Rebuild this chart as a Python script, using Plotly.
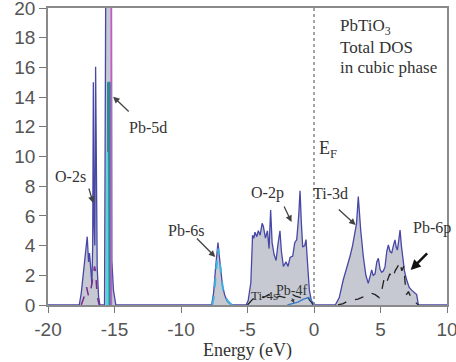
import plotly.graph_objects as go

# ---------------- data ----------------
total_E = [-20.0, -17.65, -17.5, -17.35, -17.22, -17.05, -16.95, -16.88, -16.8, -16.7,
           -16.64, -16.59, -16.54, -16.48, -16.42, -16.37, -16.3, -16.2, -16.1,
           -15.75, -15.62, -15.58, -15.26, -15.2, -15.08, -14.98, -14.9,
           -7.7, -7.55, -7.4, -7.3, -7.22, -7.12, -7.0, -6.88, -6.72, -6.55, -6.35, -6.15,
           -5.1, -4.95, -4.75, -4.62, -4.52, -4.44, -4.3, -4.19, -4.05, -3.9, -3.81, -3.65,
           -3.5, -3.38, -3.26, -3.15, -3.0, -2.85, -2.72, -2.56, -2.45, -2.3, -2.1, -1.95,
           -1.8, -1.6, -1.45, -1.3, -1.15, -1.05, -0.95, -0.85, -0.7, -0.6, -0.5, -0.35,
           -0.2, -0.1,
           1.6, 1.9, 2.2, 2.45, 2.7, 2.9, 3.08, 3.2, 3.33, 3.42, 3.51, 3.71, 3.9, 4.08,
           4.2, 4.34, 4.45, 4.59, 4.72, 4.84, 4.97, 5.09, 5.22, 5.34, 5.47, 5.59, 5.72,
           5.84, 5.97, 6.09, 6.18, 6.27, 6.38, 6.47, 6.57, 6.67, 6.8, 6.97, 7.15, 7.34,
           7.55, 7.72, 7.85, 10.0]
total_DOS = [0, 0, 0.8, 2.1, 3.0, 4.6, 2.9, 3.5, 2.6, 1.4,
             4.0, 15.0, 5.5, 4.0, 16.05, 8.0, 2.5, 0.6, 0,
             0, 40, 40, 40, 3.0, 1.0, 0.3, 0,
             0, 0.8, 2.5, 3.6, 4.2, 3.3, 2.2, 1.3, 0.7, 0.3, 0.1, 0,
             0, 0.3, 1.5, 4.7, 4.5, 4.9, 4.6, 5.0, 4.7, 5.5, 5.3, 4.5,
             5.0, 3.8, 6.4, 4.2, 3.4, 3.0, 4.0, 5.0, 3.6, 2.6, 2.9, 2.6,
             3.2, 3.3, 4.2, 4.4, 6.0, 7.7, 5.5, 3.9, 4.0, 4.4, 3.0, 1.0,
             0.3, 0,
             0, 0.5, 1.7, 2.4, 3.25, 4.0, 5.05, 5.5, 7.3, 6.0, 5.05, 3.25, 2.0, 1.46,
             1.8, 2.36, 2.0, 2.1, 2.9, 3.14, 2.4, 2.2, 2.3, 2.58, 3.6, 4.04, 3.6,
             3.5, 4.0, 4.38, 3.9, 3.7, 4.4, 5.05, 4.0, 3.25, 2.3, 1.68, 1.2, 1.0,
             0.85, 0.7, 0, 0]

pb5d_teal_E = [-15.56, -15.52, -15.3, -15.27]
pb5d_teal_DOS = [0, 15.0, 15.0, 0]
pb5d_cyan_E = [-15.6, -15.57, -15.54, -15.5]
pb5d_cyan_DOS = [0, 10.3, 10.3, 0]
pb5d_mag_E = [-15.26, -15.24, -15.22]
pb5d_mag_DOS = [0, 40, 0]

o2s_E = [-17.5, -17.3, -17.1, -16.95, -16.8, -16.62, -16.5, -16.42, -16.3, -16.15]
o2s_DOS = [0, 0.5, 1.2, 0.6, 0.9, 2.0, 2.6, 2.2, 0.6, 0]

pb6s_E = [-7.65, -7.5, -7.38, -7.28, -7.2, -7.1, -6.98, -6.85, -6.7, -6.5, -6.3, -6.15]
pb6s_DOS = [0, 0.7, 2.2, 3.3, 3.8, 3.0, 2.0, 1.1, 0.6, 0.3, 0.1, 0]

val_dash_E = [-5.0, -4.6, -4.2, -3.8, -3.4, -3.0, -2.6, -2.2, -1.8, -1.4, -1.0, -0.6, -0.3, 0.0]
val_dash_DOS = [0, 0.4, 0.6, 0.5, 0.7, 0.4, 0.6, 0.5, 0.8, 0.6, 0.5, 0.7, 0.3, 0]

val_blue_E = [-2.0, -1.2, -0.8, -0.4, -0.1, 0.1]
val_blue_DOS = [0, 0.2, 0.4, 0.5, 0.2, 0]

pb6p_E = [1.8, 2.2, 2.6, 2.9, 3.3, 3.7, 4.0, 4.3, 4.6, 4.9, 5.1, 5.3, 5.5, 5.7, 5.9,
          6.1, 6.3, 6.45, 6.6, 6.75, 6.85, 6.95, 7.1, 7.3, 7.5, 7.7, 7.85]
pb6p_DOS = [0, 0.1, 0.3, 0.35, 0.4, 0.55, 0.65, 0.8, 0.7, 0.5, 1.0, 1.9, 1.6, 2.1, 1.8,
            2.3, 2.6, 2.9, 2.3, 2.6, 1.5, 0.7, 0.9, 0.5, 0.3, 0.1, 0]

x_ticks = [-20, -15, -10, -5, 0, 5, 10]
y_ticks = [0, 2, 4, 6, 8, 10, 12, 14, 16, 18, 20]

SERIF = "Liberation Serif, Times New Roman, Times, DejaVu Serif, serif"
SANS = "Liberation Sans, Arial, sans-serif"

fig = go.Figure()

fig.add_trace(go.Scatter(x=total_E, y=total_DOS, mode="lines", fill="tozeroy",
                         fillcolor="#c6c9d2", line=dict(color="#4747a6", width=1.3),
                         name="Total"))
fig.add_trace(go.Scatter(x=pb5d_teal_E, y=pb5d_teal_DOS, mode="lines", fill="tozeroy",
                         fillcolor="#2a8b95", line=dict(color="#2a8b95", width=1)))
fig.add_trace(go.Scatter(x=pb5d_cyan_E, y=pb5d_cyan_DOS, mode="lines",
                         line=dict(color="#52d6dc", width=1.5)))
fig.add_trace(go.Scatter(x=pb5d_mag_E, y=pb5d_mag_DOS, mode="lines",
                         line=dict(color="#c85ac8", width=1.2)))
fig.add_trace(go.Scatter(x=o2s_E, y=o2s_DOS, mode="lines",
                         line=dict(color="#7a2a8a", width=1.5, dash="dash")))
fig.add_trace(go.Scatter(x=pb6s_E, y=pb6s_DOS, mode="lines",
                         line=dict(color="#3fb0e0", width=2, dash="dash")))
fig.add_trace(go.Scatter(x=val_dash_E, y=val_dash_DOS, mode="lines",
                         line=dict(color="#222222", width=1.3, dash="dash")))
fig.add_trace(go.Scatter(x=val_blue_E, y=val_blue_DOS, mode="lines",
                         line=dict(color="#3a7ad0", width=1.3)))
fig.add_trace(go.Scatter(x=pb6p_E, y=pb6p_DOS, mode="lines",
                         line=dict(color="#222222", width=1.3, dash="dash")))

# Fermi level
fig.add_shape(type="line", x0=0, x1=0, y0=0, y1=20, xref="x", yref="y",
              line=dict(color="#888888", width=1.5, dash="dot"))

ann = []
def label(x, y, text, size=16, xanchor="center", yanchor="middle"):
    ann.append(dict(x=x, y=y, xref="x", yref="y", text=text, showarrow=False,
                    font=dict(family=SERIF, size=size, color="#333333"),
                    xanchor=xanchor, yanchor=yanchor))

def arrow(x0, y0, x1, y1, width=1.3, color="#444444", head=2, size=1.0):
    ann.append(dict(x=x1, y=y1, ax=x0, ay=y0, xref="x", yref="y", axref="x", ayref="y",
                    text="", showarrow=True, arrowhead=head, arrowwidth=width,
                    arrowsize=size, arrowcolor=color))

label(-18.29, 8.62, "O-2s")
arrow(-16.96, 7.95, -16.6, 6.87)
label(-12.46, 11.92, "Pb-5d")
arrow(-13.82, 12.93, -15.1, 14.03)
label(-9.6, 5.05, "Pb-6s")
arrow(-8.92, 4.58, -7.42, 3.23)
label(-3.46, 7.54, "O-2p")
arrow(-2.30, 6.73, -1.69, 5.59)
label(1.24, 7.54, "Ti-3d")
arrow(1.75, 6.53, 3.13, 5.39)
label(8.89, 5.19, "Pb-6p")
arrow(8.62, 3.57, 7.27, 2.36, width=2.5, color="#111111", head=2, size=0.8)
label(-3.73, 0.61, "Ti-4s", size=13)
label(-1.66, 1.01, "Pb-4f", size=14)
arrow(-1.7, 0.55, -1.5, 0.12, width=1, size=0.8)
label(0.26, 10.44, "E<sub>F</sub>", size=18, xanchor="left")
label(1.77, 18.72, "PbTiO<sub>3</sub>", size=17, xanchor="left")
label(1.77, 17.31, "Total DOS", size=17, xanchor="left")
label(1.77, 15.96, "in cubic phase", size=17, xanchor="left")

fig.update_layout(
    width=456, height=362,
    margin=dict(l=48, r=9, t=8, b=57, autoexpand=False),
    paper_bgcolor="white", plot_bgcolor="white",
    showlegend=False,
    annotations=ann,
    xaxis=dict(range=[-20, 10], tickvals=x_ticks, ticktext=[str(v) for v in x_ticks],
               ticks="outside", ticklen=6, tickcolor="#777777", automargin=False,
               showline=True, linecolor="#8a8a8a", linewidth=1.5, mirror=True,
               showgrid=False, zeroline=False, ticklabeloverflow="allow",
               tickfont=dict(family=SANS, size=19, color="#555555"),
               title=dict(text="Energy (eV)", standoff=2,
                          font=dict(family=SERIF, size=18, color="#333333"))),
    yaxis=dict(range=[0, 20], tickvals=y_ticks, ticktext=[str(v) for v in y_ticks],
               ticks="outside", ticklen=7, tickcolor="#777777", automargin=False,
               showline=True, linecolor="#8a8a8a", linewidth=1.5, mirror=True,
               showgrid=False, zeroline=False, ticklabeloverflow="allow",
               tickfont=dict(family=SANS, size=19, color="#555555")),
)

fig.write_html("out.html", config={"displayModeBar": False},
               post_script="document.body.style.margin='0';document.body.style.overflow='hidden';")
